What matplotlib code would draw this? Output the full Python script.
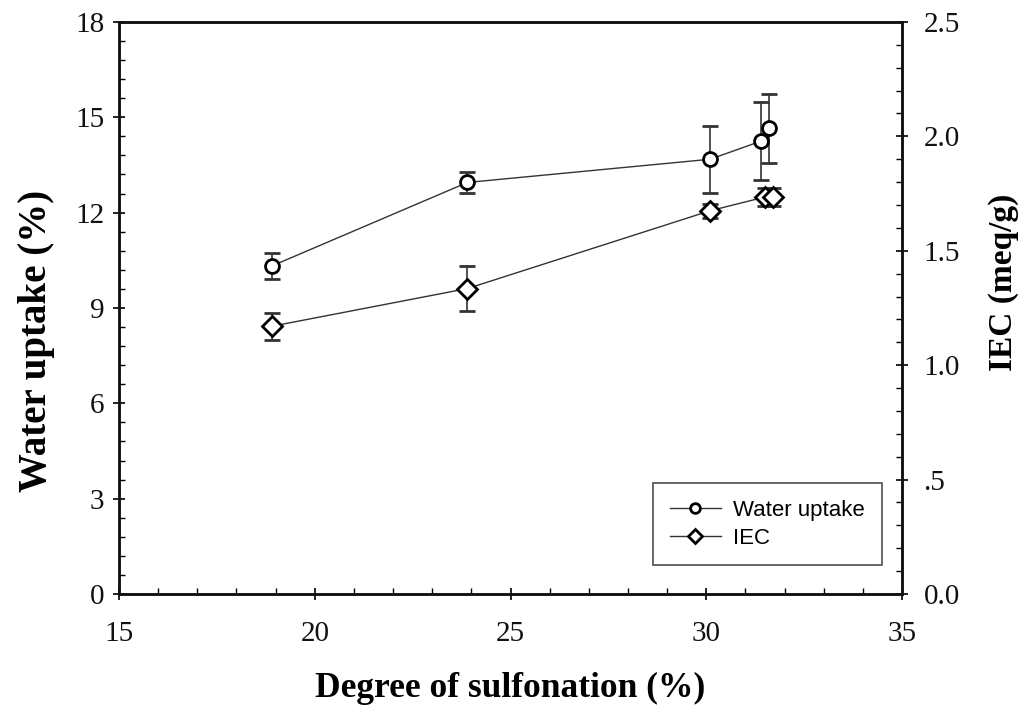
import matplotlib
matplotlib.use("Agg")
import matplotlib.pyplot as plt
from matplotlib.ticker import MultipleLocator, FuncFormatter
from matplotlib.lines import Line2D

# Data
dos = [18.9, 23.9, 30.1, 31.4, 31.6]
water_uptake = [10.32, 12.95, 13.68, 14.25, 14.65]
water_err = [0.40, 0.33, 1.05, 1.22, 1.08]
dos_iec = [18.9, 23.9, 30.1, 31.5, 31.7]
iec = [1.17, 1.335, 1.675, 1.735, 1.735]
iec_err = [0.058, 0.10, 0.03, 0.04, 0.04]

serif = ['Liberation Serif', 'DejaVu Serif']
sans = ['Liberation Sans', 'DejaVu Sans']

fig = plt.figure(figsize=(10.25, 7.08), dpi=100)
ax = fig.add_axes([0.1161, 0.161, 0.7639, 0.808])
ax2 = ax.twinx()

lc = '#333333'
ax.errorbar(dos, water_uptake, yerr=water_err, color=lc, lw=1.0, marker='o',
            ms=10, mfc='white', mec='black', mew=2.0, ecolor=lc, elinewidth=1.2,
            capsize=6, capthick=1.2, zorder=3)
ax2.errorbar(dos_iec, iec, yerr=iec_err, color=lc, lw=1.0, marker='D',
             ms=10, mfc='white', mec='black', mew=2.0, ecolor=lc, elinewidth=1.2,
             capsize=6, capthick=1.2, zorder=3)

ax.set_xlim(15, 35)
ax.set_ylim(0, 18)
ax2.set_ylim(0, 2.5)

ax.xaxis.set_major_locator(MultipleLocator(5))
ax.xaxis.set_minor_locator(MultipleLocator(1))
ax.yaxis.set_major_locator(MultipleLocator(3))
ax.yaxis.set_minor_locator(MultipleLocator(0.6))
ax2.yaxis.set_major_locator(MultipleLocator(0.5))
ax2.yaxis.set_minor_locator(MultipleLocator(0.1))

def rfmt(v, pos):
    s = f"{v:.1f}"
    if s == "0.5":
        return ".5"
    return s
ax2.yaxis.set_major_formatter(FuncFormatter(rfmt))

for a in (ax, ax2):
    for s in a.spines.values():
        s.set_linewidth(1.8)
        s.set_color('#111111')

ax.tick_params(axis='both', which='major', direction='inout', length=9, width=1.3,
               labelsize=21, pad=6, colors='#111111')
ax.tick_params(axis='both', which='minor', direction='in', length=4.5, width=1.0)
ax.tick_params(axis='x', which='major', pad=15)
ax2.tick_params(axis='y', which='major', direction='inout', length=9, width=1.3,
                labelsize=21, pad=11, colors='#111111')
ax2.tick_params(axis='y', which='minor', direction='in', length=4.5, width=1.0)

for lab in ax.get_xticklabels() + ax.get_yticklabels() + ax2.get_yticklabels():
    lab.set_family(serif)

ax.set_xlabel('Degree of sulfonation (%)', fontsize=25.5, fontweight='bold',
              family=serif, labelpad=18)
ax.set_ylabel('Water uptake (%)', fontsize=28, fontweight='bold',
              family=serif)
ax.yaxis.set_label_coords(-0.082, 0.442)
ax2.set_ylabel('IEC (meq/g)', fontsize=24, fontweight='bold',
               family=serif)
ax2.yaxis.set_label_coords(1.11, 0.544)

handles = [
    Line2D([], [], color=lc, lw=1.0, marker='o', ms=7, mfc='white', mec='black', mew=2.0),
    Line2D([], [], color=lc, lw=1.0, marker='D', ms=7, mfc='white', mec='black', mew=2.0),
]
leg = ax2.legend(handles, ['Water uptake', 'IEC'], loc='lower right',
                 bbox_to_anchor=(0.974, 0.05),
                 prop={'family': sans, 'size': 16}, frameon=True, fancybox=False,
                 edgecolor='#222222', borderpad=0.75, handlelength=2.3,
                 handletextpad=0.55, labelspacing=0.3, borderaxespad=0)
leg.get_frame().set_linewidth(1.2)

fig.savefig('out.png', dpi=100)
